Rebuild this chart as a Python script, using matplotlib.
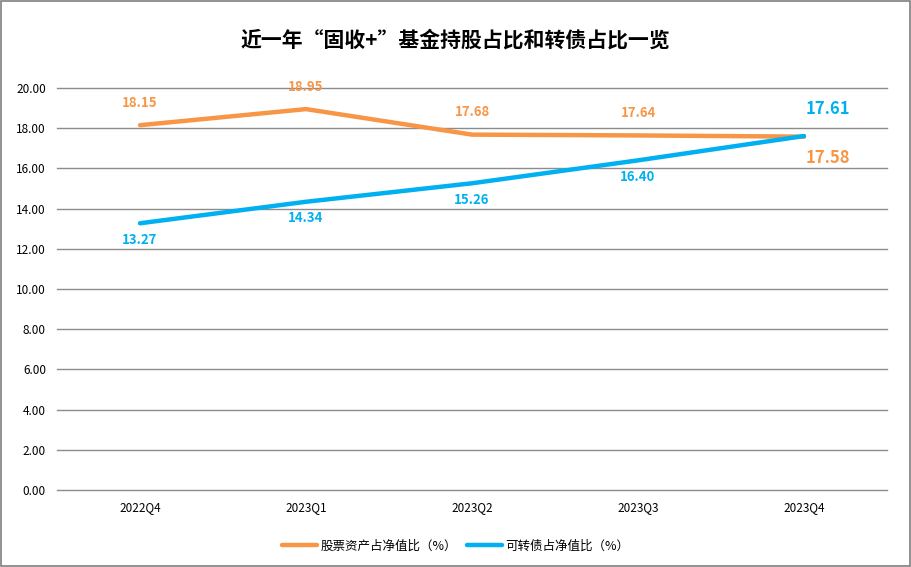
import matplotlib
matplotlib.use("Agg")
import matplotlib.pyplot as plt
from matplotlib.patches import Rectangle

plt.rcParams['font.family'] = ['Noto Sans CJK SC', 'DejaVu Sans']

categories = ["2022Q4", "2023Q1", "2023Q2", "2023Q3", "2023Q4"]
stock = [18.15, 18.95, 17.68, 17.64, 17.58]
convert = [13.27, 14.34, 15.26, 16.40, 17.61]
yticks = [0, 2, 4, 6, 8, 10, 12, 14, 16, 18, 20]
title = "近一年“固收+”基金持股占比和转债占比一览"
stock_name = "股票资产占净值比（%）"
convert_name = "可转债占净值比（%）"

orange = "#F79646"
blue = "#00B0F0"

fig = plt.figure(figsize=(9.11, 5.67), dpi=100)
ax = fig.add_axes([57/911, 1-490/567, 830/911, 402/567])
x = list(range(len(categories)))

ax.plot(x, stock, color=orange, lw=3.2, solid_capstyle='round', label=stock_name, zorder=3)
ax.plot(x, convert, color=blue, lw=3.2, solid_capstyle='round', label=convert_name, zorder=3)

ax.set_xlim(-0.5, len(categories) - 0.5)
ax.set_ylim(0, 20)
ax.set_yticks(yticks)
ax.set_yticklabels([f"{v:.2f}" for v in yticks], fontsize=8.5)
ax.set_xticks(x)
ax.set_xticklabels(categories, fontsize=8.5)
ax.tick_params(length=0, pad=8)
ax.tick_params(axis='x', pad=8)
for s in ax.spines.values():
    s.set_visible(False)
for yv in yticks:
    ax.axhline(yv, color='#8c8c8c', lw=1, zorder=1, clip_on=False)

n = len(categories)
for i, (sv, cv) in enumerate(zip(stock, convert)):
    if i < n - 1:
        ax.annotate(f"{sv:.2f}", (i, sv), xytext=(0, 11), textcoords='offset points',
                    ha='center', va='bottom', color=orange, fontsize=9.5, fontweight='bold')
        ax.annotate(f"{cv:.2f}", (i, cv), xytext=(0, -7), textcoords='offset points',
                    ha='center', va='top', color=blue, fontsize=9.5, fontweight='bold')
    else:
        ax.annotate(f"{sv:.2f}", (i, sv), xytext=(1, -9), textcoords='offset points',
                    ha='left', va='top', color=orange, fontsize=12, fontweight='bold')
        ax.annotate(f"{cv:.2f}", (i, cv), xytext=(1, 13), textcoords='offset points',
                    ha='left', va='bottom', color=blue, fontsize=12, fontweight='bold')

fig.text(0.5, 1-40/567, title, ha='center', va='center', fontsize=15, fontweight='bold')

fig.legend(loc='center', bbox_to_anchor=(0.5, 1-546/567), ncol=2, frameon=False,
           fontsize=9, handlelength=2.8, columnspacing=0.8, handletextpad=0.3)

fig.patches.append(Rectangle((0.001, 0.001), 0.998, 0.998, transform=fig.transFigure,
                             fill=False, edgecolor='#7f7f7f', lw=1.2))

fig.savefig("out.png", dpi=100)
